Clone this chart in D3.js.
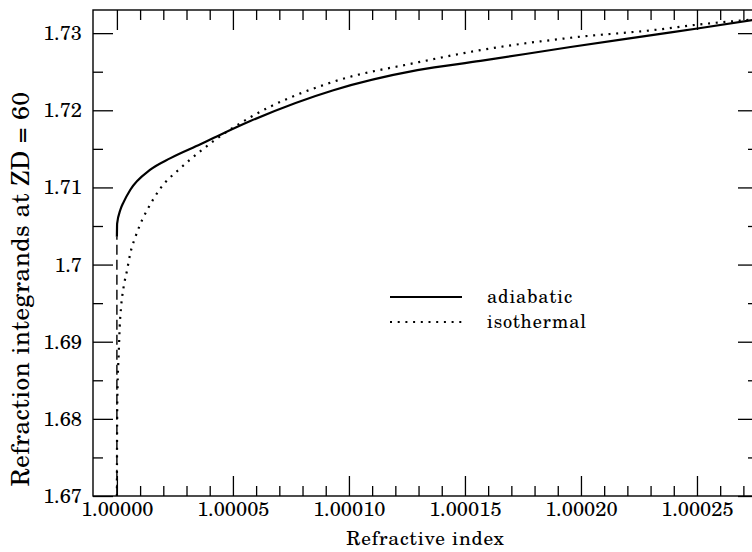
<!DOCTYPE html>
<html>
<head>
<meta charset="utf-8">
<script src="https://cdn.jsdelivr.net/npm/d3@7"></script>
</head>
<body style="margin:0; background:#fff">
<div id="chart"></div>
<script>
// refractive index given as (n - 1) in units of 1e-5
var adiabaticN = [0, 0.01, 0.15, 0.29, 0.58, 1.44, 2.31, 3.6, 4.16, 5.75, 9.33, 12.95, 15.67, 19.55, 23.43, 25.02, 27.6];
var adiabaticV = [1.7036, 1.7053, 1.7071, 1.7081, 1.7097, 1.7123, 1.7138, 1.7156, 1.7164, 1.7186, 1.7226, 1.7252, 1.7264, 1.7282, 1.7299, 1.7306, 1.7318];

// dashed continuation of the adiabatic curve at n = 1
var adiabaticDashN = [0, 0];
var adiabaticDashV = [1.7036, 1.67];

var isothermalN = [0, 0.01, 0.03, 0.08, 0.12, 0.18, 0.29, 0.44, 0.58, 0.80, 1.09, 1.31, 1.88, 2.74, 3.6, 4.16, 5.75, 9.33, 12.95, 15.67, 19.55, 23.43, 25.02, 27.6];
var isothermalV = [1.67, 1.6799, 1.6843, 1.6885, 1.6919, 1.6945, 1.6971, 1.6993, 1.7015, 1.7036, 1.7058, 1.7071, 1.7099, 1.7125, 1.7147, 1.7160, 1.7191, 1.7237, 1.7262, 1.7278, 1.7294, 1.7305, 1.7311, 1.7318];

var xMajor = [1.00000, 1.00005, 1.00010, 1.00015, 1.00020, 1.00025];
var xTickLabels = ["1.00000", "1.00005", "1.00010", "1.00015", "1.00020", "1.00025"];
var yMajor = [1.67, 1.68, 1.69, 1.70, 1.71, 1.72, 1.73];
var yTickLabels = ["1.67", "1.68", "1.69", "1.7", "1.71", "1.72", "1.73"];

var legendNames = ["adiabatic", "isothermal"];

(function(){
  var width = 752;
  var height = 552;
  var frame = {left: 93, top: 10, right: 758, bottom: 496};
  var font = "'TeX Gyre Schola', 'DejaVu Serif', serif";

  let svg = d3.select("#chart")
    .append("svg")
      .attr("width", width)
      .attr("height", height)
      .style("display", "block");

  //scales
  let x = d3.scaleLinear().domain([1 - 1.03e-5, 1 + 27.63e-5]).range([frame.left, frame.right]);
  let y = d3.scaleLinear().domain([1.67, 1.733]).range([frame.bottom, frame.top]);

  var xMinor = d3.range(1, 28).filter(function(i){ return i % 5 !== 0; }).map(function(i){ return 1 + i * 1e-5; });
  var yMinor = d3.range(6).map(function(i){ return 1.675 + i * 0.01; });

  function toPoints(ns, vs) {
    return ns.map(function(n, i){ return {n: 1 + n * 1e-5, v: vs[i]}; });
  }

  //line generator
  let line = d3.line()
    .curve(d3.curveMonotoneX)
    .x(function(d){ return x(d.n); })
    .y(function(d){ return y(d.v); });

  //axes with inward ticks
  function addAxis(axisFn, scale, transform, major, minor, labels) {
    var pad = axisFn === d3.axisBottom ? 6 : 11;
    var gMaj = svg.append("g").attr("transform", transform)
      .call(axisFn(scale).tickValues(major).tickSize(-20).tickPadding(labels ? pad : 0)
        .tickFormat(function(d, i){ return labels ? labels[i] : ""; }));
    var gMin = svg.append("g").attr("transform", transform)
      .call(axisFn(scale).tickValues(minor).tickSize(-10).tickFormat(""));
    [gMaj, gMin].forEach(function(g) {
      g.select(".domain").remove();
      g.selectAll(".tick line").attr("stroke", "#000").attr("stroke-width", 1.3);
      g.selectAll(".tick text")
        .style("font-family", font).style("font-size", "20.1px").attr("fill", "#000");
    });
  }

  addAxis(d3.axisBottom, x, "translate(0," + frame.bottom + ")", xMajor, xMinor, xTickLabels);
  addAxis(d3.axisTop, x, "translate(0," + frame.top + ")", xMajor, xMinor, null);
  addAxis(d3.axisLeft, y, "translate(" + frame.left + ",0)", yMajor, yMinor, yTickLabels);
  addAxis(d3.axisRight, y, "translate(" + frame.right + ",0)", yMajor, yMinor, null);

  //frame
  svg.append("rect")
    .attr("x", frame.left).attr("y", frame.top)
    .attr("width", frame.right - frame.left).attr("height", frame.bottom - frame.top)
    .attr("fill", "none").attr("stroke", "#000").attr("stroke-width", 1.4);

  //curves
  svg.append("path")
    .attr("d", line(toPoints(adiabaticDashN, adiabaticDashV)))
    .attr("fill", "none").attr("stroke", "#000").attr("stroke-width", 1.4)
    .attr("stroke-dasharray", "10,5").attr("stroke-dashoffset", -8);

  svg.append("path")
    .attr("d", line(toPoints(isothermalN, isothermalV)))
    .attr("fill", "none").attr("stroke", "#000").attr("stroke-width", 2.2)
    .attr("stroke-dasharray", "2,5.7");

  svg.append("path")
    .attr("d", line(toPoints(adiabaticN, adiabaticV)))
    .attr("fill", "none").attr("stroke", "#000").attr("stroke-width", 2.2);

  //legend
  var legend = svg.append("g").attr("transform", "translate(390,297)");
  legendNames.forEach(function(name, i) {
    var row = legend.append("g").attr("transform", "translate(0," + (i * 25) + ")");
    row.append("line").attr("x1", 0).attr("x2", 72).attr("y1", 0).attr("y2", 0)
      .attr("stroke", "#000").attr("stroke-width", 2.2)
      .attr("stroke-dasharray", i === 1 ? "2,5.7" : null);
    row.append("text").attr("x", 97).attr("y", 6)
      .style("font-family", font).style("font-size", "18.3px").style("letter-spacing", "0.9px")
      .text(name);
  });

  //axis titles
  svg.append("text")
    .attr("x", (frame.left + frame.right) / 2).attr("y", 545)
    .attr("text-anchor", "middle")
    .style("font-family", font).style("font-size", "19.4px").style("letter-spacing", "0.8px")
    .text("Refractive index");

  svg.append("text")
    .attr("transform", "translate(29,289) rotate(-90)")
    .attr("text-anchor", "middle")
    .style("font-family", font).style("font-size", "25px").style("letter-spacing", "0.4px")
    .text("Refraction integrands at ZD = 60");
})();
</script>
</body>
</html>
